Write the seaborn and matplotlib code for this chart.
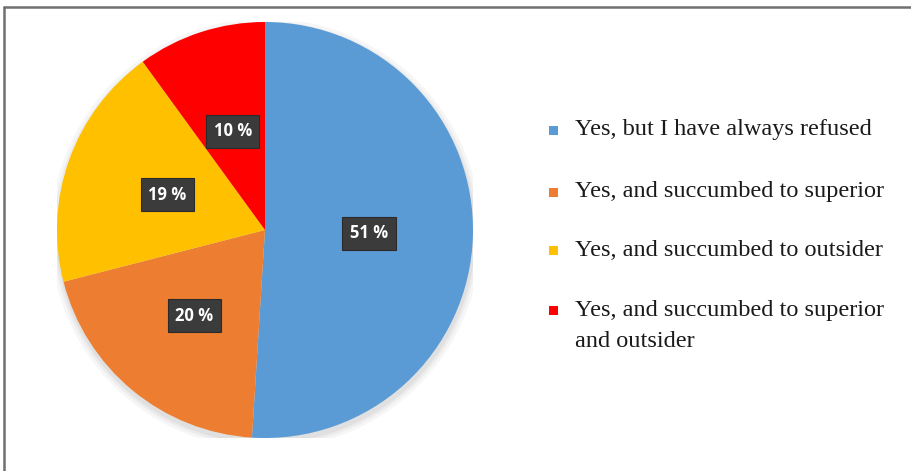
import matplotlib
matplotlib.use("Agg")
import matplotlib.pyplot as plt
from matplotlib.lines import Line2D
from matplotlib.patches import Rectangle
import seaborn as sns

categories = [
    "Yes, but I have always refused",
    "Yes, and succumbed to superior",
    "Yes, and succumbed to outsider",
    "Yes, and succumbed to superior\nand outsider",
]
shares = [51, 20, 19, 10]
colors = ["#5B9BD5", "#ED7D31", "#FFC000", "#FF0000"]

sns.set_theme(style="white")
plt.rcParams["font.family"] = ["Liberation Serif", "DejaVu Serif"]

W, H = 912, 471
fig = plt.figure(figsize=(W / 100, H / 100), dpi=100)
fig.patch.set_facecolor("white")

# pie axes: centre (265, 230) px, radius ~208 px
cx, cy, r = 265, 230, 208
ax = fig.add_axes([(cx - r) / W, (H - cy - r) / H, 2 * r / W, 2 * r / H])
palette = sns.color_palette(colors)

# soft shadow under the pie
for alpha, grow in [(0.05, 1.035), (0.06, 1.02), (0.08, 1.008)]:
    sh = plt.Circle((0.004, -0.018), grow, color="#555555", alpha=alpha, lw=0)
    ax.add_patch(sh)

wedges, texts = ax.pie(
    shares,
    colors=palette,
    startangle=90,
    counterclock=False,
    labels=[f"{v} %" for v in shares],
    labeldistance=0.5,
    wedgeprops=dict(linewidth=0),
)
for t in texts:
    t.set_fontfamily(["Open Sans", "DejaVu Sans"])
    t.set_fontweight("bold")
    t.set_fontsize(12)
    t.set_color("white")
    t.set_ha("center")
    t.set_va("center")
    t.set_bbox(dict(boxstyle="square,pad=0.45", facecolor="#3b3b3b",
                    edgecolor="#2a2a2a", linewidth=0.8))
# nudge the orange label slightly outward
x, y = texts[1].get_position()
texts[1].set_position((x * 1.07, y * 1.07))
ax.set_xlim(-1.0, 1.0)
ax.set_ylim(-1.0, 1.0)
ax.set_aspect("equal")
ax.axis("off")

# legend drawn by hand
row_y = [130, 192, 250, 310]
for label, col, yy in zip(categories, colors, row_y):
    fig.patches.append(Rectangle((549 / W, (H - yy - 4.5) / H), 9 / W, 9 / H,
                                 transform=fig.transFigure, facecolor=col,
                                 edgecolor="none"))
    fig.text(575 / W, (H - yy) / H, label, fontsize=17.5, color="#1a1a1a",
             va="center", ha="left", linespacing=1.6)
# position multi-line entry so its first line centres on its row
fig.texts[-1].set_position((575 / W, (H - (row_y[-1] + 16)) / H))

# thin frame along the top and left edges
fig.add_artist(Line2D([4.5 / W, 1.0], [(H - 7) / H, (H - 7) / H],
                      transform=fig.transFigure, color="#707070", lw=1.8))
fig.add_artist(Line2D([4.5 / W, 4.5 / W], [0.0, (H - 7) / H],
                      transform=fig.transFigure, color="#707070", lw=1.8))

fig.savefig("out.png", dpi=100, facecolor="white")
